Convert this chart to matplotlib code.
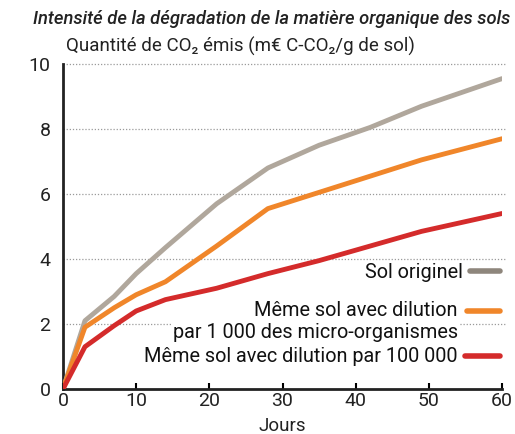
import matplotlib
matplotlib.use("Agg")
import matplotlib.pyplot as plt
from matplotlib.lines import Line2D

days = [0, 3, 7, 10, 14, 21, 28, 35, 42, 49, 60]
sol_originel = [0, 2.1, 2.85, 3.55, 4.35, 5.7, 6.8, 7.5, 8.05, 8.7, 9.55]
dilution_1000 = [0, 1.9, 2.5, 2.9, 3.3, 4.4, 5.55, 6.05, 6.55, 7.05, 7.7]
dilution_100000 = [0, 1.3, 1.95, 2.4, 2.75, 3.1, 3.55, 3.95, 4.4, 4.85, 5.4]

x_ticks = [0, 10, 20, 30, 40, 50, 60]
y_ticks = [0, 2, 4, 6, 8, 10]

title = "Intensité de la dégradation de la matière organique des sols"
ylabel = "Quantité de CO₂ émis (m€ C-CO₂/g de sol)"
xlabel = "Jours"
labels = ["Sol originel", "Même sol avec dilution\npar 1 000 des micro-organismes",
          "Même sol avec dilution par 100 000"]
colors = ["#b0a79c", "#f0862a", "#d42b2b"]

plt.rcParams['font.family'] = ['Roboto', 'DejaVu Sans']

fig = plt.figure(figsize=(5.15, 4.34), dpi=100)
ax = fig.add_axes([63/515, 45/434, 439/515, 325/434])

for y in y_ticks[1:]:
    ax.plot([0, 60.5], [y, y], linestyle=(0, (1, 1.5)), color="#9a9a9a", lw=0.9,
            zorder=1, clip_on=False)

ax.plot(days, sol_originel, color=colors[0], lw=3.5, solid_capstyle='round', zorder=3)
ax.plot(days, dilution_1000, color=colors[1], lw=3.5, solid_capstyle='round', zorder=3)
ax.plot(days, dilution_100000, color=colors[2], lw=3.5, solid_capstyle='round', zorder=3)

ax.set_xlim(0, 60)
ax.set_ylim(0, 10)
ax.set_xticks(x_ticks)
ax.set_yticks(y_ticks)
ax.tick_params(axis='x', direction='in', length=4, width=1.5, labelsize=14, pad=2,
               labelcolor="#222222")
ax.tick_params(axis='y', length=0, labelsize=14, pad=9, labelcolor="#222222")
for s in ['top', 'right']:
    ax.spines[s].set_visible(False)
for s in ['left', 'bottom']:
    ax.spines[s].set_linewidth(2)
    ax.spines[s].set_color("#222222")

ax.set_xlabel(xlabel, fontsize=13.5, labelpad=0, color="#222222")
ax.xaxis.set_label_coords(0.5, -0.085)

fig.text(0.064, 0.957, title, fontsize=13.2, style='italic', fontweight='medium',
         ha='left', va='center', color="#222222")
fig.text(66/515, 0.893, ylabel, fontsize=13.5, ha='left', va='center', color="#222222")

# legend
tx = 458/515
bb = dict(facecolor='white', edgecolor='none', pad=1)
fs = 14.3
fig.text(463/515, 1 - 272/434, labels[0], fontsize=fs, ha='right', va='center', bbox=bb,
         color="#111111")
fig.text(tx, 1 - 311/434, labels[1].split("\n")[0], fontsize=fs, ha='right', va='center', bbox=bb,
         color="#111111")
fig.text(tx, 1 - 333/434, labels[1].split("\n")[1], fontsize=fs, ha='right', va='center', bbox=bb,
         color="#111111")
fig.text(tx, 1 - 357/434, labels[2], fontsize=fs, ha='right', va='center', bbox=bb,
         color="#111111")

for (x0, x1, yy, c) in [(470, 500, 271, "#8e867c"), (467, 500, 311, colors[1]), (465, 500, 356, colors[2])]:
    fig.add_artist(Line2D([x0/515, x1/515], [1 - yy/434, 1 - yy/434], color=c, lw=4,
                          solid_capstyle='round'))

fig.savefig("out.png", dpi=100)
